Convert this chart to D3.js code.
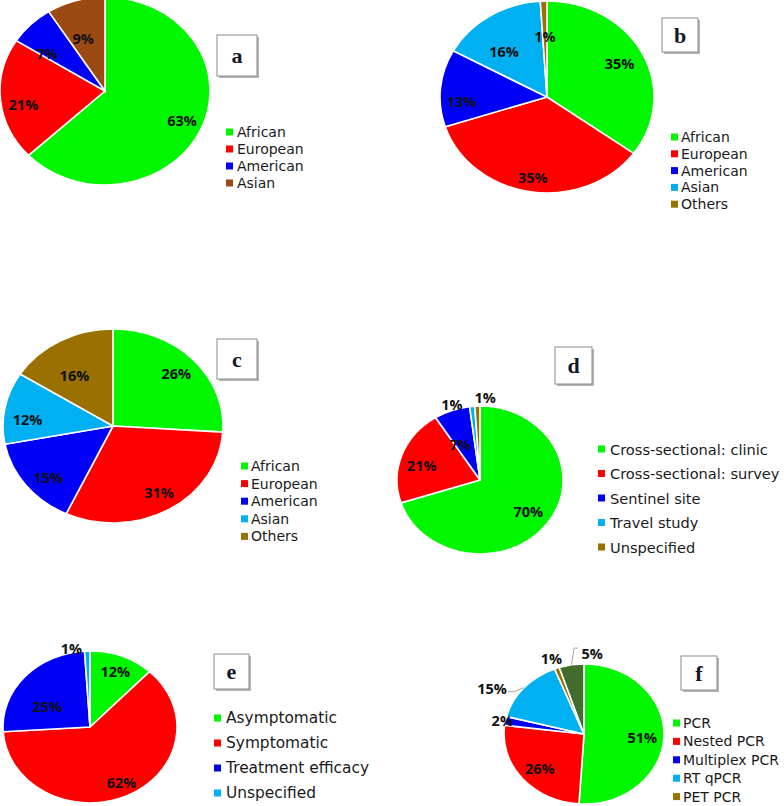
<!DOCTYPE html>
<html>
<head>
<meta charset="utf-8">
<script src="https://cdn.jsdelivr.net/npm/d3@7"></script>
<style>
  html, body { margin: 0; padding: 0; background: #fff; }
  svg { display: block; }
</style>
</head>
<body>
<svg id="chart" width="784" height="806"></svg>
<script>
// ---------------- DATA ----------------
const regionCats = ["African", "European", "American", "Asian"];
const regionCats5 = ["African", "European", "American", "Asian", "Others"];
const valuesA = [63, 21, 7, 9];
const valuesB = [35, 35, 13, 16, 1];
const valuesC = [26, 31, 15, 12, 16];
const designCats = ["Cross-sectional: clinic", "Cross-sectional: survey", "Sentinel site", "Travel study", "Unspecified"];
const valuesD = [70, 21, 7, 1, 1];
const purposeCats = ["Asymptomatic", "Symptomatic", "Treatment efficacy", "Unspecified"];
const valuesE = [12, 62, 25, 1];
const methodCats = ["PCR", "Nested PCR", "Multiplex PCR", "RT qPCR", "PET PCR", "Others"];
const valuesF = [51, 26, 2, 15, 1, 5];
const panelLetters = ["a", "b", "c", "d", "e", "f"];

// ---------------- STYLE / LAYOUT ----------------
const W = 784, H = 806;
const GREEN = "#00f700", RED = "#ff0000", BLUE = "#0000f5", CYAN = "#00b0f0",
      RUST = "#9c4a14", OLIVE = "#9a7000", DKGREEN = "#426b2e";

const panels = [
  { cats: regionCats, vals: valuesA, colors: [GREEN, RED, BLUE, RUST],
    cx: 105, cy: 91, rx: 105, ry: 94,
    k: [.8, .79, .68, .6], da: [0, -5, -9, -4],
    box: [217, 35, 40, 41],
    leg: { sx: 226, tx: 237, y0: 132, dy: 17, fs: 14 } },
  { cats: regionCats5, vals: valuesB, colors: [GREEN, RED, BLUE, CYAN, OLIVE],
    cx: 547, cy: 97, rx: 107, ry: 96,
    k: [.76, .85, .8, .62, .63], da: [0, 0, -9, -8, 0],
    box: [662, 18, 36, 34],
    leg: { sx: 671, tx: 681, y0: 137, dy: 16.8, fs: 14 } },
  { cats: regionCats5, vals: valuesC, colors: [GREEN, RED, BLUE, CYAN, OLIVE],
    cx: 113, cy: 426, rx: 110, ry: 97,
    k: [.79, .8, .79, .78, .63], da: [0, -1, -4, -6, -5],
    box: [217, 339, 40, 40],
    leg: { sx: 241, tx: 251, y0: 466, dy: 17.6, fs: 14 } },
  { cats: designCats, vals: valuesD, colors: [GREEN, RED, BLUE, CYAN, OLIVE],
    cx: 480, cy: 480, rx: 83, ry: 74,
    k: [.72, .73, .53, 1.07, 1.11], da: [0, -4, -7, -13, 5],
    box: [555, 347, 37, 37],
    leg: { sx: 598, tx: 610, y0: 449, dy: 24.5, fs: 14.6 } },
  { cats: purposeCats, vals: valuesE, colors: [GREEN, RED, BLUE, CYAN],
    cx: 90, cy: 727, rx: 87, ry: 76,
    k: [.79, .82, .56, 1.05], da: [0, -1, -13, -10],
    box: [214, 654, 35, 35],
    leg: { sx: 214, tx: 226, y0: 718, dy: 25, fs: 15.4 } },
  { cats: methodCats, vals: valuesF, colors: [GREEN, RED, BLUE, CYAN, OLIVE, DKGREEN],
    cx: 584, cy: 734, rx: 80, ry: 70,
    k: [.73, .74, 1.04, 1.32, 1.15, 1.16], da: [2, -2, 0, -12, -1, 14],
    leader: [false, false, false, true, false, true],
    box: [681, 656, 36, 34],
    leg: { sx: 673, tx: 683, y0: 723, dy: 18.4, fs: 14 } }
];

const svg = d3.select("#chart");
const pie = d3.pie().sort(null).value(d => d).startAngle(0).endAngle(2 * Math.PI);

panels.forEach((p, pi) => {
  const g = svg.append("g");
  const arcs = pie(p.vals);
  const arc = d3.arc().innerRadius(0).outerRadius(p.rx);

  // slices (ellipse via vertical scale)
  g.append("g")
    .attr("transform", `translate(${p.cx},${p.cy}) scale(1,${p.ry / p.rx})`)
    .selectAll("path").data(arcs).join("path")
    .attr("d", arc)
    .attr("fill", (d, i) => p.colors[i])
    .attr("stroke", "#fff")
    .attr("stroke-width", 1.6)
    .attr("vector-effect", "non-scaling-stroke");

  const pos = (d, i, kk) => {
    const mid = (d.startAngle + d.endAngle) / 2 + (p.da[i] || 0) * Math.PI / 180;
    return [p.cx + p.rx * kk * Math.sin(mid), p.cy - p.ry * kk * Math.cos(mid)];
  };

  // leader lines
  if (p.leader) {
    arcs.forEach((d, i) => {
      if (!p.leader[i]) return;
      const mid = (d.startAngle + d.endAngle) / 2;
      const e = [p.cx + p.rx * Math.sin(mid), p.cy - p.ry * Math.cos(mid)];
      const l = pos(d, i, p.k[i]);
      const side = l[0] < e[0] ? 1 : -1;
      const pts = side > 0
        ? [e, [l[0] + 22, l[1] + 3], [l[0] + 16, l[1] + 3]]
        : [e, [l[0] - 18, l[1] - 5], [l[0] - 14, l[1] - 5]];
      g.append("path")
        .attr("d", d3.line()(pts))
        .attr("fill", "none")
        .attr("stroke", "#a6a6a6")
        .attr("stroke-width", 1);
    });
  }

  // percent labels
  g.selectAll("text.pct").data(arcs).join("text")
    .attr("class", "pct")
    .attr("x", (d, i) => pos(d, i, p.k[i])[0])
    .attr("y", (d, i) => pos(d, i, p.k[i])[1])
    .attr("text-anchor", "middle")
    .attr("dominant-baseline", "central")
    .attr("font-family", "'Open Sans', sans-serif")
    .attr("font-weight", "bold")
    .attr("font-size", 14.5)
    .attr("fill", "#111")
    .text(d => d.data + "%");

  // legend (entries beyond the canvas bottom are not drawn, as in the reference)
  const lg = g.append("g");
  p.cats.forEach((c, i) => {
    const y = p.leg.y0 + i * p.leg.dy;
    if (y + p.leg.fs * 0.5 > H) return;
    lg.append("rect")
      .attr("x", p.leg.sx).attr("y", y - 3.5)
      .attr("width", 7).attr("height", 7)
      .attr("fill", p.colors[i]);
    lg.append("text")
      .attr("x", p.leg.tx).attr("y", y)
      .attr("dominant-baseline", "central")
      .attr("font-family", "'DejaVu Sans', sans-serif")
      .attr("font-size", p.leg.fs)
      .attr("fill", "#1a1a1a")
      .text(c);
  });

  // panel letter box
  const [bx, by, bw, bh] = p.box;
  g.append("rect")
    .attr("x", bx + 2).attr("y", by + 2).attr("width", bw).attr("height", bh)
    .attr("fill", "#b5b5b5");
  g.append("rect")
    .attr("x", bx).attr("y", by).attr("width", bw).attr("height", bh)
    .attr("fill", "#fff").attr("stroke", "#8c8c8c").attr("stroke-width", 1);
  g.append("text")
    .attr("x", bx + bw / 2).attr("y", by + bh / 2)
    .attr("text-anchor", "middle")
    .attr("dominant-baseline", "central")
    .attr("font-family", "'Liberation Serif', serif")
    .attr("font-weight", "bold")
    .attr("font-size", 22)
    .attr("fill", "#111827")
    .text(panelLetters[pi]);
});
</script>
</body>
</html>
